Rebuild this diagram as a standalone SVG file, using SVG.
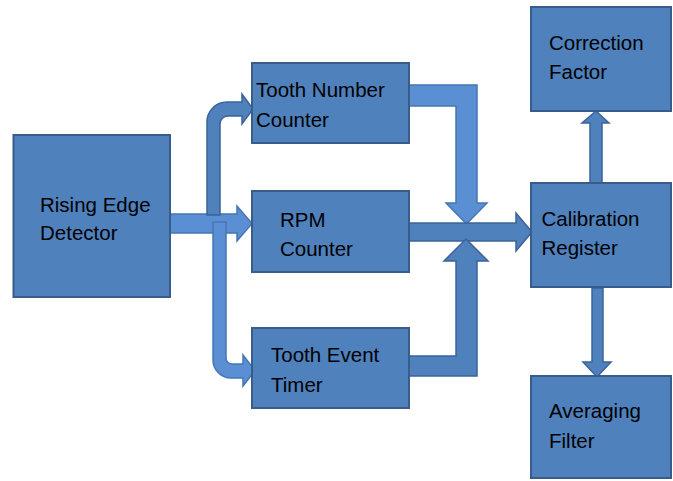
<svg xmlns="http://www.w3.org/2000/svg" width="673" height="481" viewBox="0 0 673 481">
<style>
.box{fill:#4f81bd;stroke:#385d8a;stroke-width:2}
.arr{fill:#4f81bd;stroke:#3a639a;stroke-width:1.5;stroke-linejoin:miter}
.lt{fill:#5a8fd3;stroke:#4677b4;stroke-width:1.5}
.t{font-family:"Liberation Sans",Arial,sans-serif;font-size:20.5px;fill:#000}
</style>
<rect width="673" height="481" fill="#ffffff"/>
<g id="connectors">
<path class="lt" d="M170,214 L237,214 L237,206 L252,223.5 L237,241 L237,233 L170,233 Z"/>
<path class="arr" d="M207,215 L207,123 A20,20 0 0 1 227,102 L242,102 L242,94 L253,109 L242,124 L242,116 L228,116 A8,8 0 0 0 220,124 L220,215 Z"/>
<path class="lt" d="M213,222 L226,222 L226,358 A6,6 0 0 0 232,364 L243,364 L243,355 L255,370.5 L243,386 L243,378 L231,378 A18,18 0 0 1 213,360 Z"/>
<path class="lt" d="M409,85 L477,85 L477,203 L487,203 L466.5,224 L446,203 L456,203 L456,106 L409,106 Z"/>
<path class="arr" d="M409,223 L516,223 L516,213 L532,232 L516,251 L516,241 L409,241 Z"/>
<path class="arr" d="M409,376 L409,356 L456,356 L456,261 L444,261 L466,239 L488,261 L477,261 L477,376 Z"/>
<path class="arr" d="M590,183 L590,123 L582,123 L596,111 L609,123 L602,123 L602,183 Z"/>
<path class="arr" d="M592,288 L603,288 L603,362 L611,362 L597,377 L583,362 L592,362 Z"/>
</g>
<g id="rising-edge-detector">
<rect class="box" x="13.5" y="135" width="156.5" height="162"/>
<text class="t" x="40" y="212">Rising Edge</text>
<text class="t" x="40" y="240">Detector</text>
</g>
<g id="tooth-number-counter">
<rect class="box" x="252" y="63" width="157" height="80"/>
<text class="t" x="256" y="97">Tooth Number</text>
<text class="t" x="256" y="126.5">Counter</text>
</g>
<g id="rpm-counter">
<rect class="box" x="252" y="191" width="157" height="81"/>
<text class="t" x="280" y="226.5">RPM</text>
<text class="t" x="280" y="256">Counter</text>
</g>
<g id="tooth-event-timer">
<rect class="box" x="252" y="328" width="157" height="80"/>
<text class="t" x="271" y="362">Tooth Event</text>
<text class="t" x="271" y="391.5">Timer</text>
</g>
<g id="correction-factor">
<rect class="box" x="531" y="7" width="140" height="104"/>
<text class="t" x="549" y="50">Correction</text>
<text class="t" x="549" y="79">Factor</text>
</g>
<g id="calibration-register">
<rect class="box" x="531" y="183" width="140" height="104"/>
<text class="t" x="541.5" y="225.5">Calibration</text>
<text class="t" x="541.5" y="255">Register</text>
</g>
<g id="averaging-filter">
<rect class="box" x="531" y="376" width="140" height="102"/>
<text class="t" x="549" y="418">Averaging</text>
<text class="t" x="549" y="448">Filter</text>
</g>
</svg>
